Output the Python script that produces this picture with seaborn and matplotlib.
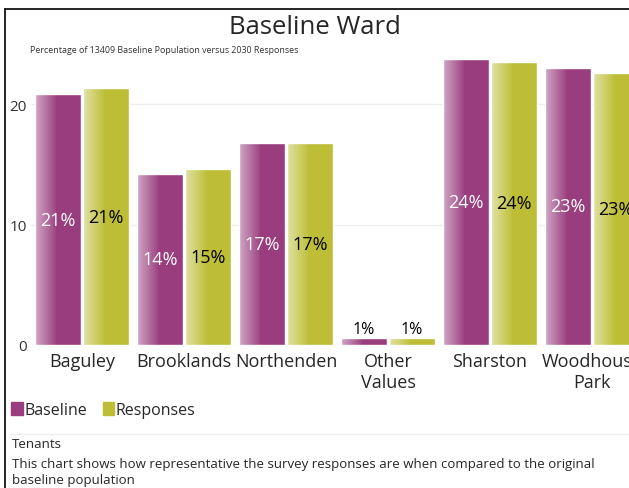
import numpy as np
import pandas as pd
import matplotlib
matplotlib.use("Agg")
import matplotlib.pyplot as plt
import seaborn as sns
from matplotlib.patches import Patch
from matplotlib.lines import Line2D

# dados (percentagem)
wards = ["Baguley", "Brooklands", "Northenden", "Other\nValues", "Sharston", "Woodhouse\nPark"]
baseline = [20.8, 14.2, 16.8, 0.55, 23.7, 23.0]
responses = [21.3, 14.6, 16.8, 0.6, 23.5, 22.6]
series = ["Baseline", "Responses"]
cores = {"Baseline": "#993d7e", "Responses": "#bdbe36"}

df = pd.DataFrame({
    "ward": wards * 2,
    "serie": ["Baseline"] * len(wards) + ["Responses"] * len(wards),
    "pct": baseline + responses,
})

sns.set_style("white")
plt.rcParams["font.family"] = ["Open Sans", "DejaVu Sans"]

fig = plt.figure(figsize=(6.29, 4.89), dpi=100)
ax = fig.add_axes([31 / 629, 1 - 346 / 489, 612 / 629, 291 / 489])

sns.barplot(data=df, x="ward", y="pct", hue="serie", palette=cores,
            width=0.94, gap=0.05, ax=ax, legend=False, saturation=1)

ax.set_yticks([0, 10, 20])
ax.grid(axis="y", color="#eeeeee", lw=1)
ax.set_axisbelow(True)
sns.despine(ax=ax, left=True, bottom=True)
ax.tick_params(length=0)
ax.tick_params(axis="x", labelsize=13, pad=5)
ax.tick_params(axis="y", labelsize=11, pad=3, labelcolor="#333333")
ax.set_xlabel("")
ax.set_ylabel("")

# brilho do lado esquerdo de cada barra
grad = np.linspace(0.55, 0.05, 50).reshape(1, -1)
for cont in ax.containers:
    for p in cont.patches:
        x0, w, h = p.get_x(), p.get_width(), p.get_height()
        ax.imshow(np.dstack([np.ones((1, 50, 3)), grad[..., None]]),
                  extent=(x0, x0 + w * 0.45, 0, h), aspect="auto", zorder=p.get_zorder() + 0.1)

# rótulos das barras
for cont, cor in zip(ax.containers, ["white", "black"]):
    for p in cont.patches:
        h = p.get_height()
        cx = p.get_x() + p.get_width() / 2
        if h > 3:
            ax.text(cx, h / 2, f"{h:.0f}%", ha="center", va="center", color=cor, fontsize=13, zorder=5)
        else:
            ax.text(cx, h + 0.1, f"{h:.0f}%", ha="center", va="bottom", color="black", fontsize=11.5, zorder=5)

ax.set_xlim(-0.5, 5.5)
ax.set_ylim(0, 24.15)

fig.text(0.5, 1 - 27 / 489, "Baseline Ward", ha="center", va="center", fontsize=18.5)
fig.text(30 / 629, 1 - 51 / 489, "Percentage of 13409 Baseline Population versus 2030 Responses",
         ha="left", va="center", fontsize=6.4, color="#333333")

handles = [Patch(color=cores[s]) for s in series]
fig.legend(handles, series, loc="center left", bbox_to_anchor=(5 / 629, 1 - 411 / 489),
           frameon=False, fontsize=11.5, handlelength=0.7, handleheight=0.9,
           handletextpad=0.1, columnspacing=1.0, ncol=2, borderaxespad=0)

fig.add_artist(Line2D([10 / 629, 1], [1 - 435 / 489] * 2, color="#eeeeee", lw=1))
fig.text(12 / 629, 1 - 445 / 489, "Tenants", ha="left", va="center", fontsize=9.5)
fig.text(12 / 629, 1 - 465 / 489,
         "This chart shows how representative the survey responses are when compared to the original",
         ha="left", va="center", fontsize=9.5)
fig.text(12 / 629, 1 - 481 / 489, "baseline population", ha="left", va="center", fontsize=9.5)

# moldura
fig.add_artist(Line2D([5 / 629, 5 / 629], [0, 1 - 10 / 489], color="black", lw=1.2))
fig.add_artist(Line2D([5 / 629, 1], [1 - 10 / 489] * 2, color="black", lw=1.2))

plt.savefig("out.png", dpi=100)
